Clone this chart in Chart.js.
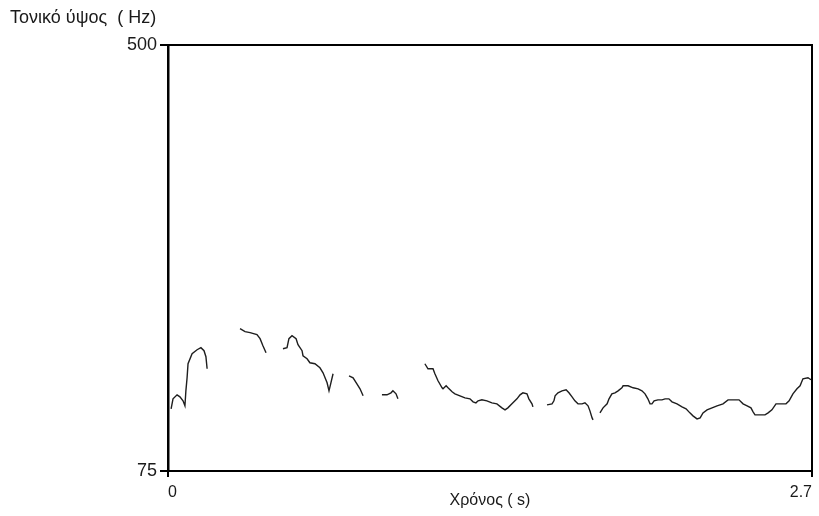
<!DOCTYPE html>
<html>
<head>
<meta charset="utf-8">
<script src="https://cdn.jsdelivr.net/npm/chart.js@4/dist/chart.umd.min.js"></script>
<style>
  html, body { margin: 0; padding: 0; background: #fff; }
  #wrap { width: 819px; height: 516px; }
</style>
</head>
<body>
<div id="wrap"><canvas id="pitchChart" width="819" height="516"></canvas></div>
<script>
const xTicks = [0, 2.7];
const yTicks = [75, 500];
const xLabel = "Χρόνος ( s)";
const yLabel = "Τονικό ύψος  ( Hz)";

// voiced stretches of the pitch track (time in s)
const segTimes = [
  [0.013, 0.021, 0.038, 0.050, 0.063, 0.071, 0.075, 0.080, 0.084, 0.101, 0.122, 0.138, 0.151, 0.159, 0.164],
  [0.302, 0.323, 0.344, 0.373, 0.386, 0.398, 0.411],
  [0.482, 0.499, 0.507, 0.520, 0.537, 0.545, 0.562, 0.566, 0.583, 0.595, 0.616, 0.637, 0.650, 0.667, 0.675, 0.683, 0.692],
  [0.759, 0.776, 0.792, 0.805, 0.818],
  [0.897, 0.918, 0.935, 0.943, 0.956, 0.964],
  [1.077, 1.090, 1.111, 1.119, 1.132, 1.149, 1.153, 1.166, 1.174, 1.191, 1.203, 1.224, 1.245, 1.266, 1.279, 1.291,
   1.300, 1.316, 1.337, 1.358, 1.379, 1.400, 1.413, 1.425, 1.442, 1.463, 1.476, 1.488, 1.505, 1.513, 1.526, 1.530],
  [1.589, 1.610, 1.618, 1.623, 1.635, 1.652, 1.669, 1.681, 1.694, 1.706, 1.719, 1.736, 1.748, 1.761, 1.769, 1.778, 1.782],
  [1.811, 1.824, 1.841, 1.849, 1.861, 1.874, 1.887, 1.903, 1.908, 1.929, 1.950, 1.971, 1.987, 2.000, 2.012, 2.021,
   2.029, 2.038, 2.054, 2.071, 2.084, 2.100, 2.113, 2.134, 2.155, 2.172, 2.188, 2.201, 2.218, 2.231, 2.243, 2.260,
   2.281, 2.302, 2.327, 2.348, 2.369, 2.394, 2.411, 2.428, 2.444, 2.453, 2.461, 2.482, 2.503, 2.516, 2.532, 2.549,
   2.574, 2.591, 2.604, 2.620, 2.637, 2.650, 2.662, 2.683, 2.696]
];

// pitch in Hz, same shape as segTimes
const segPitch = [
  [137, 147, 151, 149, 145, 140, 155, 168, 182, 192, 196, 198, 195, 189, 177],
  [217, 214, 213, 211, 207, 200, 193],
  [197, 198, 207, 210, 207, 201, 195, 190, 187, 183, 182, 178, 173, 163, 155, 163, 172],
  [170, 168, 162, 157, 150],
  [151, 151, 153, 155, 152, 147],
  [182, 177, 177, 172, 165, 158, 157, 160, 158, 154, 152, 150, 148, 147, 144, 143,
   145, 146, 145, 143, 142, 138, 136, 138, 142, 147, 151, 153, 152, 147, 142, 139],
  [141, 142, 145, 150, 153, 155, 156, 153, 149, 145, 142, 142, 143, 140, 135, 128, 126],
  [133, 138, 142, 147, 152, 153, 155, 158, 160, 160, 158, 157, 155, 152, 147, 142,
   142, 145, 146, 146, 147, 147, 144, 142, 139, 137, 133, 130, 127, 128, 133, 136,
   138, 140, 142, 146, 146, 146, 142, 140, 138, 134, 131, 131, 131, 133, 136, 142,
   142, 142, 145, 152, 157, 160, 167, 168, 166]
];

let datasets = [];
for (let i = 0; i < segTimes.length; i++) {
  datasets.push({
    data: segTimes[i].map((t, j) => ({ x: t, y: segPitch[i][j] })),
    borderColor: "#1e1e1e",
    borderWidth: 1.4,
    pointRadius: 0,
    tension: 0,
    fill: false,
  });
}

const txt = "#1a1a1a";
const fam = "'Liberation Sans', 'DejaVu Sans', sans-serif";

let ctx = document.getElementById("pitchChart").getContext("2d");
let chart = new Chart(ctx, {
  type: "line",
  data: { datasets: datasets },
  options: {
    responsive: false,
    animation: false,
    devicePixelRatio: 1,
    layout: { padding: { left: 10, right: 7, top: 0, bottom: 0 } },
    plugins: {
      legend: { display: false },
      tooltip: { enabled: false },
      title: {
        display: true,
        text: yLabel,
        align: "start",
        color: txt,
        font: { family: fam, size: 18, weight: "normal" },
        padding: { top: 7, bottom: 16.4 },
      },
    },
    scales: {
      x: {
        type: "linear",
        position: "bottom",
        min: 0,
        max: 2.7,
        afterBuildTicks: (s) => { s.ticks = xTicks.map((v) => ({ value: v })); },
        afterFit: (s) => { s.height = 45; },
        ticks: {
          align: "inner",
          autoSkip: false,
          maxRotation: 0,
          padding: 6,
          color: txt,
          font: { family: fam, size: 16 },
          callback: (v) => String(v),
        },
        grid: { display: true, drawOnChartArea: false, tickLength: 6, color: "#000", lineWidth: 2 },
        border: { color: "#000", width: 2 },
        title: {
          display: true,
          text: xLabel,
          color: txt,
          font: { family: fam, size: 16 },
          padding: { top: 0, bottom: 6 },
        },
      },
      y: {
        type: "linear",
        position: "left",
        min: 75,
        max: 500,
        afterBuildTicks: (s) => { s.ticks = yTicks.map((v) => ({ value: v })); },
        afterFit: (s) => { s.width = 158; },
        ticks: {
          autoSkip: false,
          padding: 3,
          color: txt,
          font: { family: fam, size: 18 },
        },
        grid: { display: true, drawOnChartArea: false, tickLength: 8, color: "#000", lineWidth: 2 },
        border: { color: "#000", width: 2.5 },
      },
      x2: {
        type: "linear",
        position: "top",
        min: 0,
        max: 2.7,
        afterFit: (s) => { s.height = 0; },
        ticks: { display: false },
        grid: { display: false },
        border: { color: "#000", width: 2 },
      },
      y2: {
        type: "linear",
        position: "right",
        min: 75,
        max: 500,
        afterFit: (s) => { s.width = 0; },
        ticks: { display: false },
        grid: { display: false },
        border: { color: "#000", width: 2 },
      },
    },
  },
});
</script>
</body>
</html>
